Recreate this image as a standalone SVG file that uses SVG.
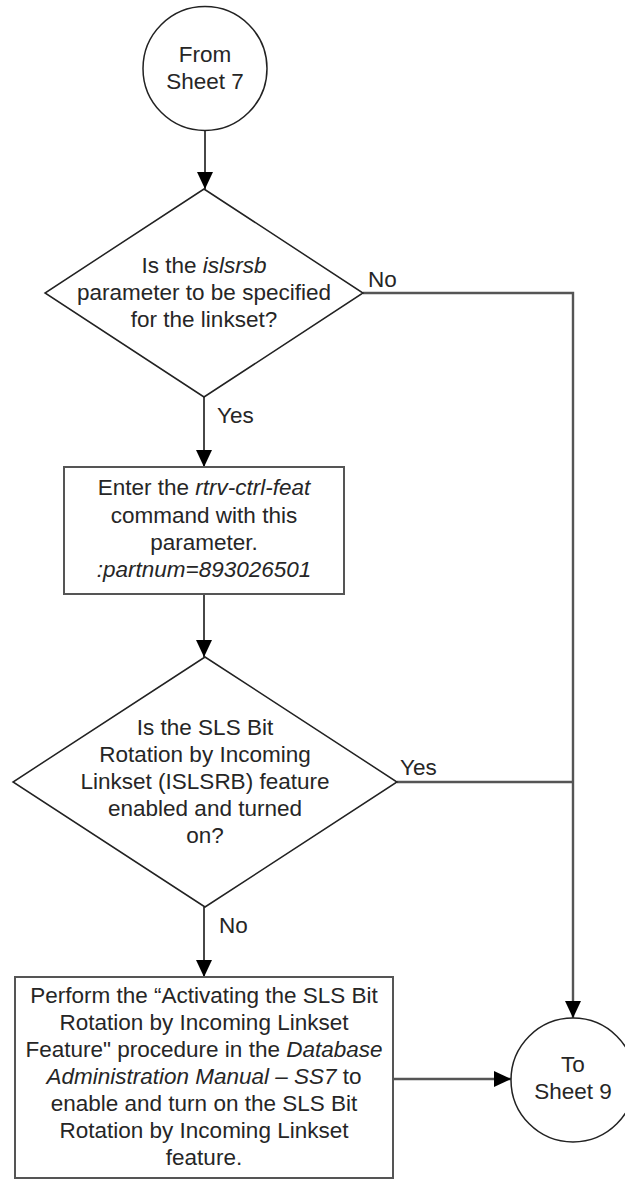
<svg xmlns="http://www.w3.org/2000/svg" width="625" height="1180" viewBox="0 0 625 1180">
  <style>
    .bg { fill: #ffffff; }
    .term { fill: #ffffff; stroke: #222222; stroke-width: 1.5; }
    .dec { fill: #ffffff; stroke: #222222; stroke-width: 1.5; }
    .proc { fill: #ffffff; stroke: #555555; stroke-width: 2; }
    .conn { fill: none; stroke: #333333; stroke-width: 1.8; }
    .conn-h { fill: none; stroke: #555555; stroke-width: 2.4; }
    text { font-family: "Liberation Sans", Arial, sans-serif; font-size: 22.5px; fill: #262626; }
    .c { text-anchor: middle; }
    .it { font-style: italic; }
  </style>
  <defs>
    <marker id="arrow" viewBox="0 0 17 16" markerWidth="17" markerHeight="16" refX="17" refY="8" orient="auto" markerUnits="userSpaceOnUse">
      <path d="M0,0 L17,8 L0,16 Z" fill="#000000"/>
    </marker>
  </defs>

  <rect class="bg" x="0" y="0" width="625" height="1180"/>

  <!-- connectors -->
  <g id="connectors">
    <line class="conn" x1="205" y1="130.5" x2="205" y2="189" marker-end="url(#arrow)"/>
    <polyline class="conn-h" points="363,293 573,293 573,1018" marker-end="url(#arrow)"/>
    <line class="conn" x1="204" y1="397" x2="204" y2="467" marker-end="url(#arrow)"/>
    <line class="conn" x1="204" y1="594" x2="204" y2="657" marker-end="url(#arrow)"/>
    <line class="conn-h" x1="397" y1="782" x2="573" y2="782"/>
    <line class="conn" x1="204" y1="907" x2="204" y2="977" marker-end="url(#arrow)"/>
    <line class="conn-h" x1="393" y1="1079" x2="511" y2="1079" marker-end="url(#arrow)"/>
    <text x="368" y="287">No</text>
    <text x="217" y="423">Yes</text>
    <text x="400" y="775">Yes</text>
    <text x="219" y="933">No</text>
  </g>

  <!-- off-page connector: from sheet 7 -->
  <g id="from-sheet-7">
    <circle class="term" cx="205" cy="68.5" r="62"/>
    <text class="c" x="205" y="62">From</text>
    <text class="c" x="205" y="89">Sheet 7</text>
  </g>

  <!-- decision: islsrsb parameter -->
  <g id="decision-islsrsb">
    <polygon class="dec" points="204,189 363,293 204,397 45,293"/>
    <text class="c" x="204" y="273">Is the <tspan class="it">islsrsb</tspan></text>
    <text class="c" x="204" y="300">parameter to be specified</text>
    <text class="c" x="204" y="327">for the linkset?</text>
  </g>

  <!-- process: rtrv-ctrl-feat -->
  <g id="enter-rtrv-ctrl-feat">
    <rect class="proc" x="64" y="467" width="280" height="127"/>
    <text class="c" x="204" y="495">Enter the <tspan class="it">rtrv-ctrl-feat</tspan></text>
    <text class="c" x="204" y="523">command with this</text>
    <text class="c" x="204" y="550">parameter.</text>
    <text class="c it" x="204" y="577">:partnum=893026501</text>
  </g>

  <!-- decision: ISLSRB feature state -->
  <g id="decision-islsrb-feature">
    <polygon class="dec" points="205,657 397,782 205,907 13,782"/>
    <text class="c" x="205" y="735">Is the SLS Bit</text>
    <text class="c" x="205" y="762">Rotation by Incoming</text>
    <text class="c" x="205" y="789">Linkset (ISLSRB) feature</text>
    <text class="c" x="205" y="816">enabled and turned</text>
    <text class="c" x="205" y="843">on?</text>
  </g>

  <!-- process: activate the feature -->
  <g id="activate-islsrb">
    <rect class="proc" x="15" y="977" width="378" height="201"/>
    <text class="c" x="204" y="1003">Perform the “Activating the SLS Bit</text>
    <text class="c" x="204" y="1030">Rotation by Incoming Linkset</text>
    <text class="c" x="204" y="1057">Feature" procedure in the <tspan class="it">Database</tspan></text>
    <text class="c" x="204" y="1084"><tspan class="it">Administration Manual – SS7</tspan> to</text>
    <text class="c" x="204" y="1111">enable and turn on the SLS Bit</text>
    <text class="c" x="204" y="1138">Rotation by Incoming Linkset</text>
    <text class="c" x="204" y="1165">feature.</text>
  </g>

  <!-- off-page connector: to sheet 9 -->
  <g id="to-sheet-9">
    <circle class="term" cx="573" cy="1080" r="62"/>
    <text class="c" x="573" y="1072">To</text>
    <text class="c" x="573" y="1099">Sheet 9</text>
  </g>
</svg>
